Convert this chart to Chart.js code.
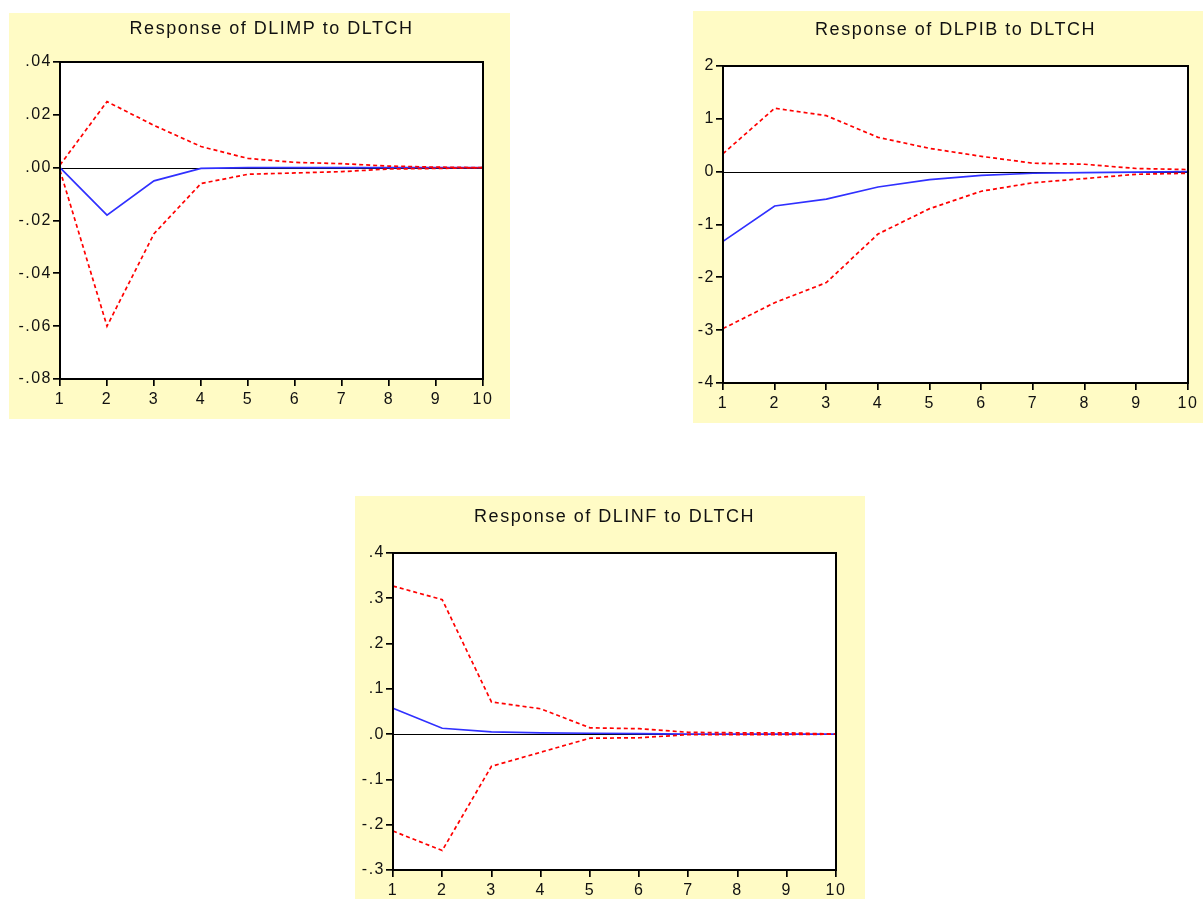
<!DOCTYPE html>
<html>
<head>
<meta charset="utf-8">
<script src="https://cdn.jsdelivr.net/npm/chart.js@4.4.1/dist/chart.umd.min.js"></script>
<style>
  html, body { margin: 0; padding: 0; background: #ffffff; }
  body { width: 1203px; height: 899px; position: relative; overflow: hidden; }
  canvas { position: absolute; background: #FFFBC5; }
</style>
</head>
<body>
<canvas id="c1" width="501" height="406" style="left:9px;top:13px;width:501px;height:406px;"></canvas>
<canvas id="c2" width="510" height="412" style="left:693px;top:11px;width:510px;height:412px;"></canvas>
<canvas id="c3" width="510" height="403" style="left:355px;top:496px;width:510px;height:403px;"></canvas>
<script>
// ---- data ----
const periods = ['1','2','3','4','5','6','7','8','9','10'];

// Response of DLIMP to DLTCH
const imp_resp  = [0.000, -0.018, -0.005, -0.0003, 0.0000, 0.0000, 0.0000, 0.0000, 0.0000, 0.0000];
const imp_upper = [0.001, 0.025, 0.016, 0.008, 0.0035, 0.002, 0.0015, 0.0006, 0.0002, 0.0000];
const imp_lower = [-0.001, -0.060, -0.025, -0.006, -0.0025, -0.002, -0.0015, -0.0005, -0.0003, 0.0000];
const imp_yTicks = [-0.08, -0.06, -0.04, -0.02, 0, 0.02, 0.04];
const imp_yLabels = ['-.08', '-.06', '-.04', '-.02', '.00', '.02', '.04'];

// Response of DLPIB to DLTCH
const pib_resp  = [-1.32, -0.65, -0.52, -0.29, -0.15, -0.07, -0.03, -0.02, -0.01, 0.00];
const pib_upper = [0.34, 1.20, 1.06, 0.65, 0.44, 0.29, 0.16, 0.14, 0.06, 0.04];
const pib_lower = [-2.97, -2.48, -2.10, -1.18, -0.70, -0.37, -0.21, -0.13, -0.05, -0.03];
const pib_yTicks = [-4, -3, -2, -1, 0, 1, 2];
const pib_yLabels = ['-4', '-3', '-2', '-1', '0', '1', '2'];

// Response of DLINF to DLTCH
const inf_resp  = [0.057, 0.013, 0.005, 0.003, 0.002, 0.001, 0.000, 0.000, 0.000, 0.000];
const inf_upper = [0.327, 0.297, 0.071, 0.056, 0.014, 0.012, 0.004, 0.003, 0.003, 0.000];
const inf_lower = [-0.214, -0.257, -0.071, -0.040, -0.009, -0.008, -0.001, -0.001, -0.001, 0.000];
const inf_yTicks = [-0.3, -0.2, -0.1, 0, 0.1, 0.2, 0.3, 0.4];
const inf_yLabels = ['-.3', '-.2', '-.1', '.0', '.1', '.2', '.3', '.4'];

// ---- plugins ----
const spacingPlugin = {
  id: 'spacing',
  beforeLayout(chart) { chart.ctx.letterSpacing = '1.5px'; },
  beforeDraw(chart) { chart.ctx.letterSpacing = '1.5px'; }
};
const frameZeroPlugin = {
  id: 'frameZero',
  beforeDatasetsDraw(chart) {
    const { ctx, chartArea: a, scales } = chart;
    ctx.save();
    ctx.fillStyle = '#FFFFFF';
    ctx.fillRect(a.left, a.top, a.right - a.left, a.bottom - a.top);
    const y0 = Math.round(scales.y.getPixelForValue(0)) + 0.5;
    ctx.strokeStyle = '#000000';
    ctx.lineWidth = 1.2;
    ctx.beginPath();
    ctx.moveTo(a.left, y0);
    ctx.lineTo(a.right, y0);
    ctx.stroke();
    ctx.restore();
  },
  afterDatasetsDraw(chart) {
    const { ctx, chartArea: a } = chart;
    ctx.save();
    ctx.strokeStyle = '#000000';
    ctx.lineWidth = 2;
    ctx.strokeRect(a.left, a.top, a.right - a.left, a.bottom - a.top);
    ctx.restore();
  }
};

const FONT = '"Liberation Sans", Arial, sans-serif';

function makeChart(id, title, resp, upper, lower, yTicks, yLabels, geom) {
  const ctx = document.getElementById(id);
  return new Chart(ctx, {
    type: 'line',
    data: {
      labels: periods,
      datasets: [
        { label: 'upper', data: upper, borderColor: '#FF0000', borderWidth: 1.7, borderDash: [4, 3], pointRadius: 0, tension: 0, fill: false },
        { label: 'lower', data: lower, borderColor: '#FF0000', borderWidth: 1.7, borderDash: [4, 3], pointRadius: 0, tension: 0, fill: false },
        { label: 'response', data: resp, borderColor: '#3030FF', borderWidth: 1.7, pointRadius: 0, tension: 0, fill: false }
      ]
    },
    options: {
      responsive: false,
      animation: false,
      events: [],
      layout: { padding: { left: 0, right: geom.right, top: 0, bottom: 0 } },
      plugins: {
        legend: { display: false },
        tooltip: { enabled: false },
        title: {
          display: true,
          text: title,
          fullSize: false,
          color: '#111111',
          font: { family: FONT, size: 18, weight: 'normal', lineHeight: 1.2 },
          padding: { top: geom.tTop, bottom: geom.tBottom }
        }
      },
      scales: {
        x: {
          type: 'category',
          offset: false,
          grid: { display: true, drawOnChartArea: false, drawTicks: true, tickLength: 7, color: '#000000', lineWidth: 1.7 },
          border: { display: false },
          ticks: { color: '#111111', padding: 4, maxRotation: 0, autoSkip: false,
                   font: { family: FONT, size: 16 } },
          afterFit(s) { s.height = geom.xH; }
        },
        y: {
          min: yTicks[0],
          max: yTicks[yTicks.length - 1],
          afterBuildTicks(s) { s.ticks = yTicks.map(v => ({ value: v })); },
          grid: { display: true, drawOnChartArea: false, drawTicks: true, tickLength: 7, color: '#000000', lineWidth: 1.7 },
          border: { display: false },
          ticks: {
            color: '#111111', padding: 1,
            font: { family: FONT, size: 16 },
            callback(v, i) { return yLabels[i]; }
          },
          afterFit(s) { s.width = geom.yW; }
        }
      }
    },
    plugins: [spacingPlugin, frameZeroPlugin]
  });
}

makeChart('c1', 'Response of DLIMP to DLTCH', imp_resp, imp_upper, imp_lower, imp_yTicks, imp_yLabels,
  { right: 27, tTop: 5.2, tBottom: 22.2, xH: 40, yW: 51 });
makeChart('c2', 'Response of DLPIB to DLTCH', pib_resp, pib_upper, pib_lower, pib_yTicks, pib_yLabels,
  { right: 15, tTop: 8.2, tBottom: 25.2, xH: 40, yW: 30 });
makeChart('c3', 'Response of DLINF to DLTCH', inf_resp, inf_upper, inf_lower, inf_yTicks, inf_yLabels,
  { right: 29, tTop: 10.2, tBottom: 25.2, xH: 29, yW: 38 });
</script>
</body>
</html>
